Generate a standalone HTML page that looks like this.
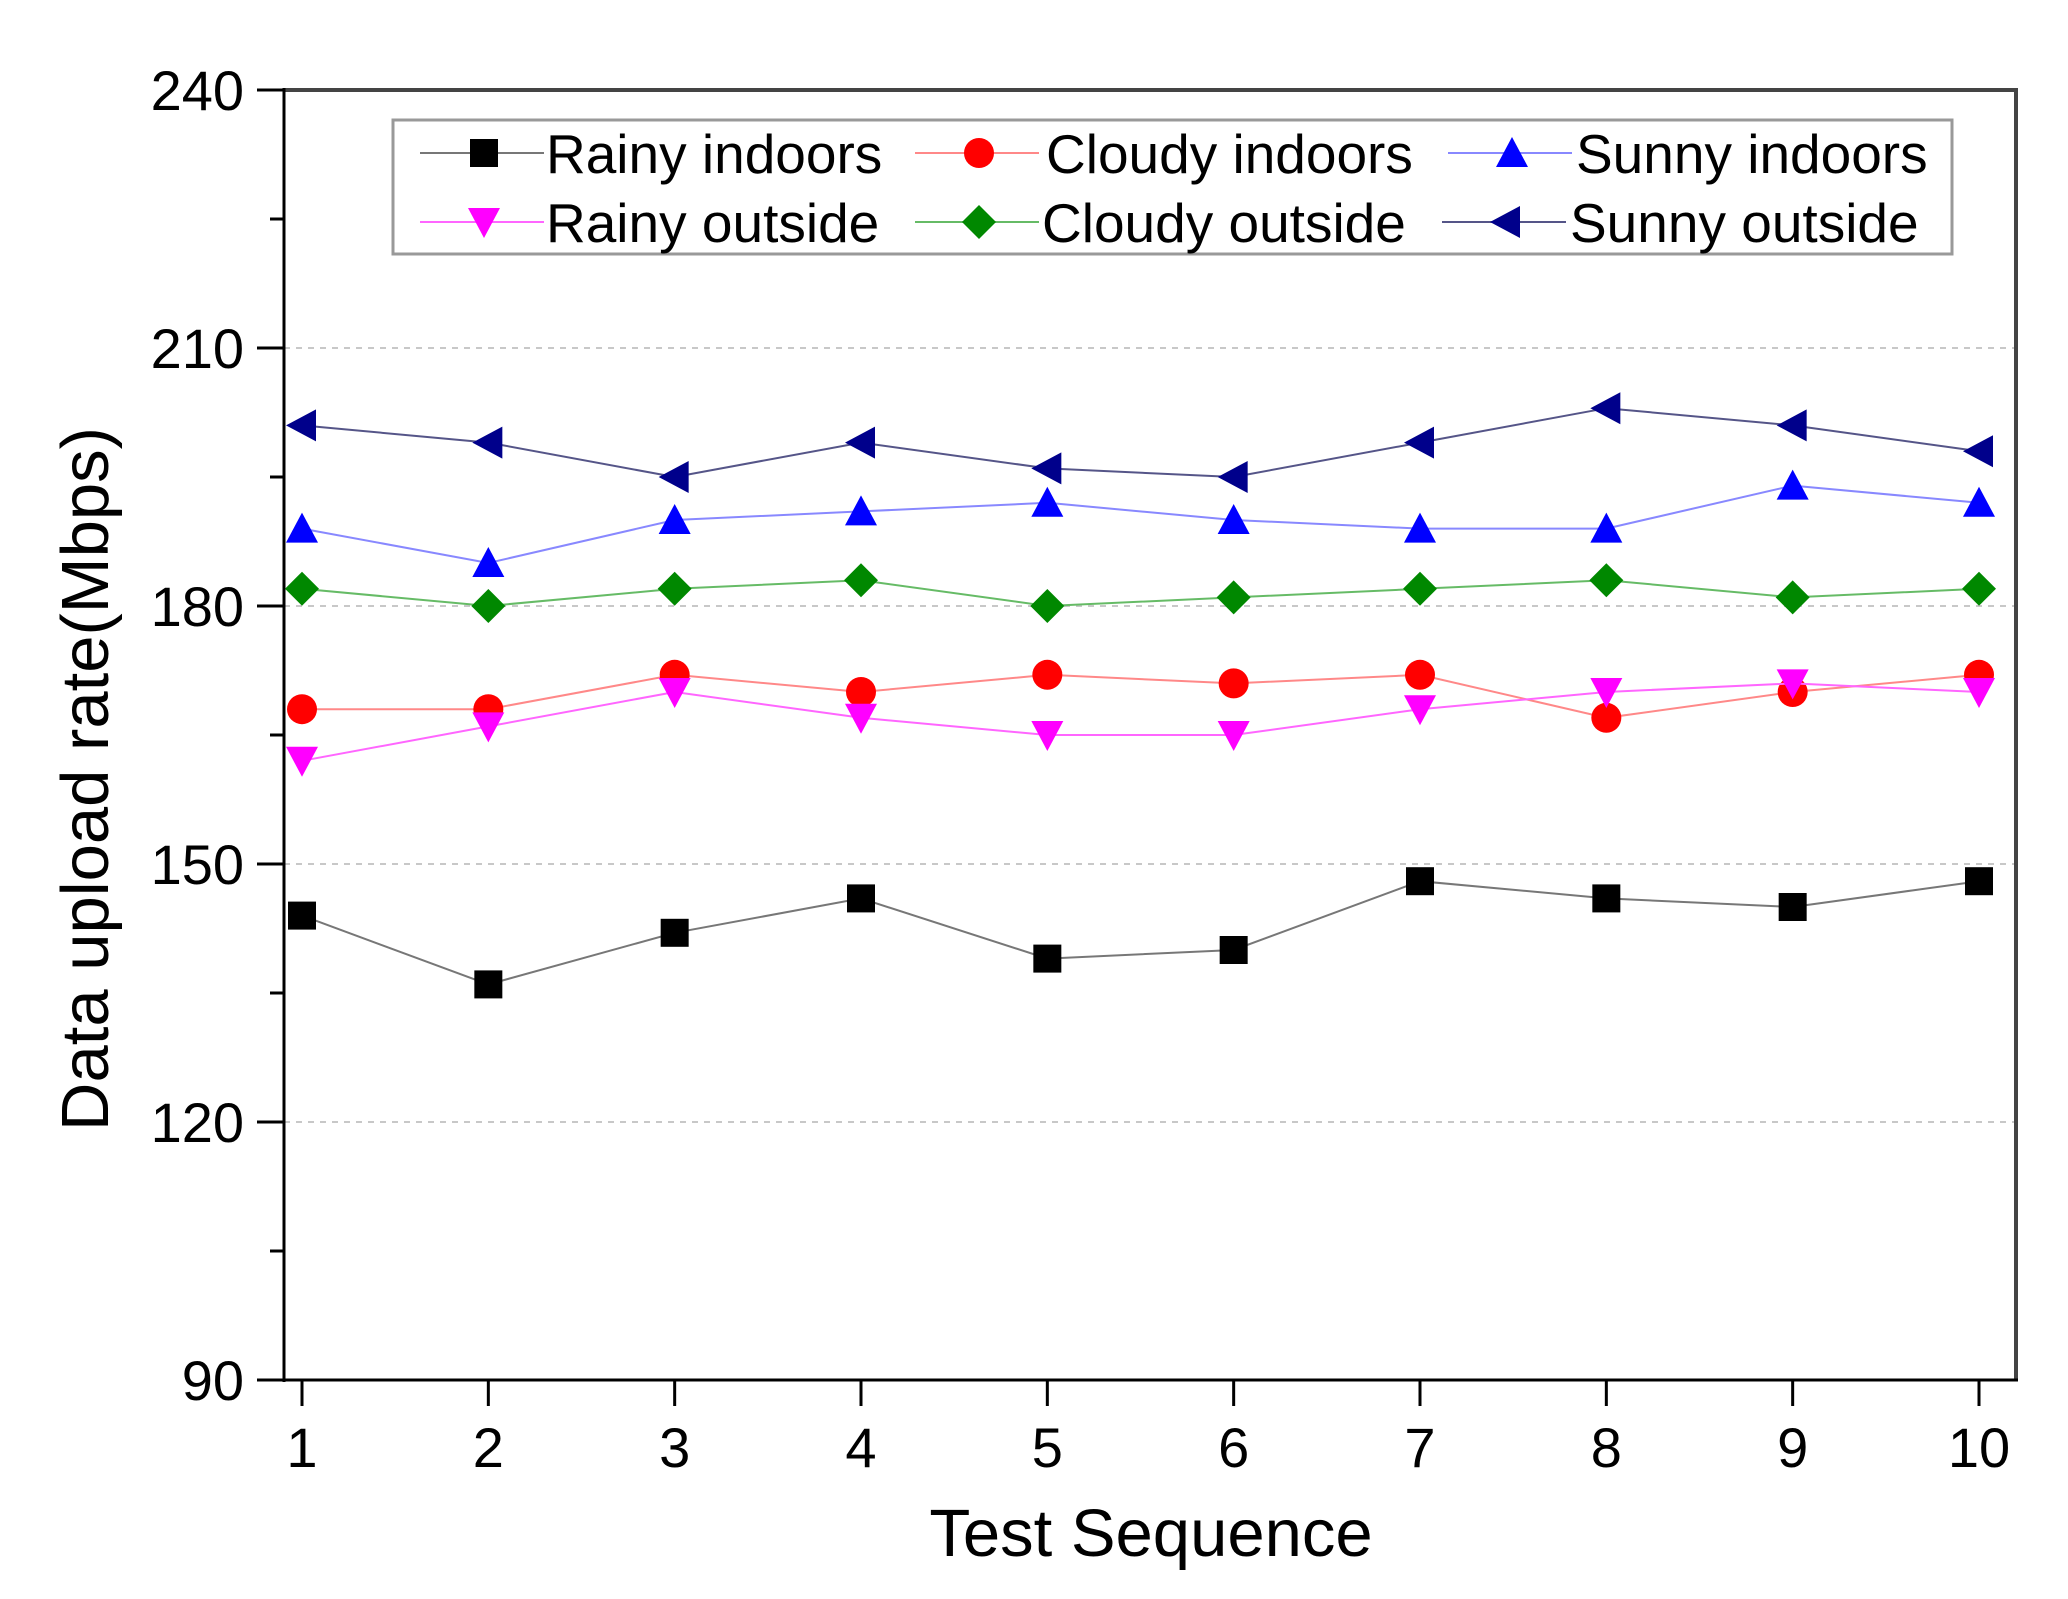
<!DOCTYPE html>
<html><head><meta charset="utf-8"><style>
html,body{margin:0;padding:0;background:#fff;}
svg{display:block;font-family:"Liberation Sans",Arial,sans-serif;}
</style></head><body>
<svg id="chart" width="2068" height="1599" viewBox="0 0 2068 1599"></svg>
<script>
const categories = [1,2,3,4,5,6,7,8,9,10];
const yTicks = [90,120,150,180,210,240];
const gridValues = [120,150,180,210];
const seriesNames = ["Rainy indoors","Cloudy indoors","Sunny indoors","Rainy outside","Cloudy outside","Sunny outside"];
const rainyIndoors = [144,136,142,146,139,140,148,146,145,148];
const cloudyIndoors = [168,168,172,170,172,171,172,167,170,172];
const sunnyIndoors = [189,185,190,191,192,190,189,189,194,192];
const rainyOutside = [162,166,170,167,165,165,168,170,171,170];
const cloudyOutside = [182,180,182,183,180,181,182,183,181,182];
const sunnyOutside = [201,199,195,199,196,195,199,203,201,198];

const NS="http://www.w3.org/2000/svg";
const svg=document.getElementById('chart');
const L=284,R=2016,T=90,B=1380;
const xS=v=>302+(v-1)*(1979-302)/9;
const yS=v=>B-(v-90)*(B-T)/150;
function mk(tag,attrs,parent){const e=document.createElementNS(NS,tag);for(const k in attrs)e.setAttribute(k,attrs[k]);(parent||svg).appendChild(e);return e;}

gridValues.forEach(v=>{
  const g=mk('line',{x1:L,x2:R,y1:yS(v),y2:yS(v),stroke:'#c8c8c8','stroke-width':2,'stroke-dasharray':'6,6'});
  
  
});
let fr=mk('path',{d:`M${L},${T} L${R},${T} L${R},${B}`,fill:'none',stroke:'#444','stroke-width':4});


let ya=mk('line',{x1:L,x2:L,y1:T-2,y2:B+2,stroke:'#000','stroke-width':3});


let xa=mk('line',{x1:L-27,x2:R+2,y1:B,y2:B,stroke:'#000','stroke-width':3});


yTicks.forEach(v=>{
  const y=yS(v);
  const t=mk('line',{x1:L-27,x2:L,y1:y,y2:y,stroke:'#000','stroke-width':3});
  
  
  const lb=mk('text',{x:244,y:y+20,'text-anchor':'end','font-size':56,fill:'#000'});
  lb.textContent=v;
  
  
});
for(let v=105;v<240;v+=30){
  const t=mk('line',{x1:L-14,x2:L,y1:yS(v),y2:yS(v),stroke:'#000','stroke-width':3});
  
  
}
categories.forEach(c=>{
  const x=xS(c);
  const t=mk('line',{x1:x,x2:x,y1:B,y2:B+26,stroke:'#000','stroke-width':3});
  
  
  const lb=mk('text',{x:x,y:B+87,'text-anchor':'middle','font-size':56,fill:'#000'});
  lb.textContent=c;
  
  
});
let xt=mk('text',{x:1151,y:1556,'text-anchor':'middle','font-size':67,fill:'#000'});
xt.textContent='Test Sequence';


let yt=mk('text',{x:0,y:0,'text-anchor':'middle','font-size':67,fill:'#000',transform:'translate(108,779) rotate(-90)'});
yt.textContent='Data upload rate(Mbps)';



function marker(type,x,y,color,parent){
  const s=14;
  if(type==='square') return mk('rect',{x:x-s,y:y-s,width:2*s,height:2*s,fill:color},parent);
  if(type==='circle') return mk('circle',{cx:x,cy:y,r:s+1,fill:color},parent);
  if(type==='up') return mk('polygon',{points:`${x},${y-s-2} ${x+s+2},${y+s} ${x-s-2},${y+s}`,fill:color},parent);
  if(type==='down') return mk('polygon',{points:`${x},${y+s+2} ${x+s+2},${y-s} ${x-s-2},${y-s}`,fill:color},parent);
  if(type==='diamond') return mk('polygon',{points:`${x},${y-s-3} ${x+s+3},${y} ${x},${y+s+3} ${x-s-3},${y}`,fill:color},parent);
  if(type==='left') return mk('polygon',{points:`${x-s-2},${y} ${x+s},${y-s-2} ${x+s},${y+s+2}`,fill:color},parent);
}
const seriesData=[rainyIndoors,cloudyIndoors,sunnyIndoors,rainyOutside,cloudyOutside,sunnyOutside];
const styles=[['square','#000','#777'],['circle','#f00','#f88'],['up','#00f','#88f'],['down','#f0f','#f6f'],['diamond','#080','#6b6'],['left','#00008b','#558']];
const keys=['rainy-indoors','cloudy-indoors','sunny-indoors','rainy-outside','cloudy-outside','sunny-outside'];
seriesData.forEach((d,i)=>{
  const g=mk('g',{});
  
  
  const pl=mk('polyline',{points:d.map((v,j)=>xS(categories[j])+','+yS(v)).join(' '),fill:'none',stroke:styles[i][2],'stroke-width':2},g);
  
  
  d.forEach((v,j)=>{
    const m=marker(styles[i][0],xS(categories[j]),yS(v),styles[i][1],g);
    
    
  });
});
const lg=mk('g',{});


const lb=mk('rect',{x:393,y:120,width:1559,height:134,fill:'#fff',stroke:'#999','stroke-width':3},lg);


const colM=[[484,979,1512],[484,979,1506]];
const colT=[[546,1046,1576],[546,1042,1570]];
const rowY=[153,222];
seriesNames.forEach((n,i)=>{
  const r=Math.floor(i/3),c=i%3,mx=colM[r][c],y=rowY[r];
  const e=mk('g',{},lg);
  
  
  mk('line',{x1:mx-64,x2:mx+60,y1:y,y2:y,stroke:styles[i][2],'stroke-width':2},e);
  marker(styles[i][0],mx,y,styles[i][1],e);
  const t=mk('text',{x:colT[r][c],y:y+20,'font-size':55,fill:'#000'},e);
  t.textContent=n;
});
</script>
</body></html>
